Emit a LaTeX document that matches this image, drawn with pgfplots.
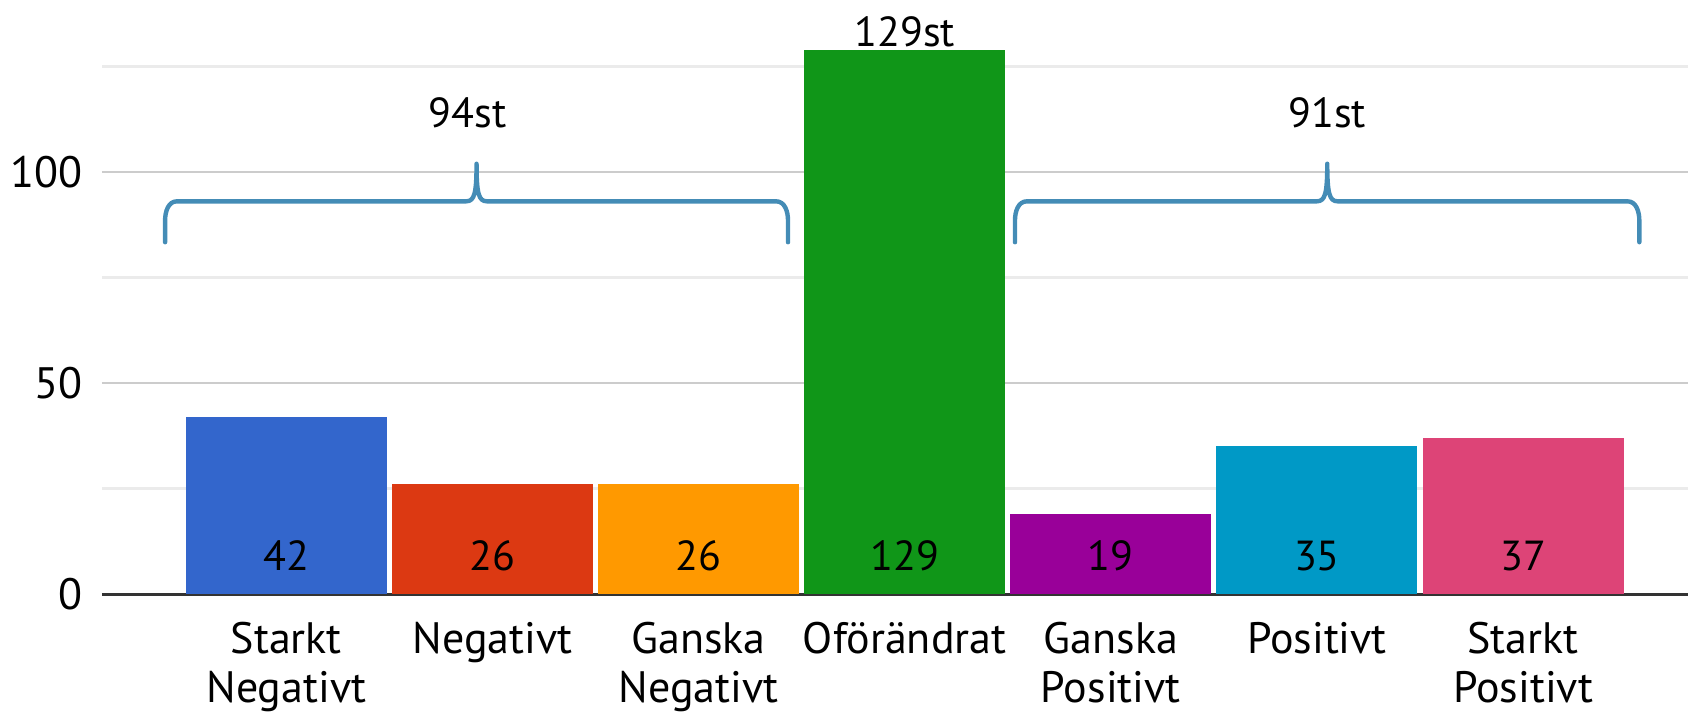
\documentclass[border=0pt]{standalone}
\usepackage{pgfplots}
\pgfplotsset{compat=1.18}
\usepackage{fontspec}
\setmainfont{PT Sans}
\definecolor{c1}{HTML}{3366CC}
\definecolor{c2}{HTML}{DC3912}
\definecolor{c3}{HTML}{FF9900}
\definecolor{c4}{HTML}{109618}
\definecolor{c5}{HTML}{990099}
\definecolor{c6}{HTML}{0099C6}
\definecolor{c7}{HTML}{DD4477}
\definecolor{brace}{HTML}{448CB6}
\definecolor{gmaj}{HTML}{CCCCCC}
\definecolor{gmin}{HTML}{EBEBEB}
\begin{document}
\begin{tikzpicture}
\begin{axis}[name=ax, scale only axis, width=793pt, height=274.3pt,
  xmin=-0.894, xmax=6.80, ymin=0, ymax=130, clip=false,
  ybar, bar width=0.975, bar shift=0pt,
  axis x line*=bottom, axis y line*=left,
  x axis line style={draw=black!80, line width=1.5pt},
  y axis line style={draw=none},
  xtick={0,...,6},
  xticklabels={{Starkt\\Negativt},Negativt,{Ganska\\Negativt},Oförändrat,{Ganska\\Positivt},Positivt,{Starkt\\Positivt}},
  xticklabel style={font=\fontsize{22}{24.3}\selectfont, align=center, anchor=north, inner sep=0pt, yshift=-14pt},
  ytick={0,50,100}, yticklabels={0,50,100},
  minor ytick={25,75,125},
  yticklabel style={font=\fontsize{22}{27}\selectfont, anchor=east, inner sep=0pt, xshift=-9.5pt},
  ymajorgrids, yminorgrids,
  major grid style={draw=gmaj, line width=1.3pt},
  minor grid style={draw=gmin, line width=1.3pt},
  major tick length=0pt, minor tick length=0pt,
  tick style={draw=none},
  every node near coord/.append style={font=\fontsize{21}{25}\selectfont, text=black},
]
\addplot[fill=c1, draw=none] coordinates {(0,42)};
\addplot[fill=c2, draw=none] coordinates {(1,26)};
\addplot[fill=c3, draw=none] coordinates {(2,26)};
\addplot[fill=c4, draw=none, nodes near coords, point meta=explicit symbolic,
  nodes near coords style={anchor=center, yshift=9pt}] coordinates {(3,129) [129st]};
\addplot[fill=c5, draw=none] coordinates {(4,19)};
\addplot[fill=c6, draw=none] coordinates {(5,35)};
\addplot[fill=c7, draw=none] coordinates {(6,37)};
% value labels at the bottom of each bar
\addplot[draw=none, fill=none, nodes near coords, point meta=explicit symbolic,
  nodes near coords style={anchor=center, yshift=19.3pt}]
  coordinates {(0,0) [42] (1,0) [26] (2,0) [26] (3,0) [129] (4,0) [19] (5,0) [35] (6,0) [37]};
% braces
\draw[brace, line width=2.2pt, line cap=round, line join=round]
  (axis cs:-0.588,83.4) -- (axis cs:-0.588,88.5) to[out=90,in=180] (axis cs:-0.53,93.1)
  -- (axis cs:0.873,93.1) .. controls (axis cs:0.913,93.1) and (axis cs:0.923,95) .. (axis cs:0.923,102)
  .. controls (axis cs:0.923,95) and (axis cs:0.933,93.1) .. (axis cs:0.973,93.1)
  -- (axis cs:2.376,93.1) to[out=0,in=90] (axis cs:2.434,88.5) -- (axis cs:2.434,83.4);
\draw[brace, line width=2.2pt, line cap=round, line join=round]
  (axis cs:3.535,83.4) -- (axis cs:3.535,88.5) to[out=90,in=180] (axis cs:3.593,93.1)
  -- (axis cs:5.0,93.1) .. controls (axis cs:5.04,93.1) and (axis cs:5.05,95) .. (axis cs:5.05,102)
  .. controls (axis cs:5.05,95) and (axis cs:5.06,93.1) .. (axis cs:5.1,93.1)
  -- (axis cs:6.506,93.1) to[out=0,in=90] (axis cs:6.564,88.5) -- (axis cs:6.564,83.4);
\node[font=\fontsize{21}{25}\selectfont] at (axis cs:0.88,114) {94st};
\node[font=\fontsize{21}{25}\selectfont] at (axis cs:5.05,114) {91st};
\end{axis}
\pgfresetboundingbox
\path[use as bounding box] ([shift={(-51pt,-60.4pt)}]ax.south west) rectangle ([shift={(793pt,297.1pt)}]ax.south west);
\end{tikzpicture}
\end{document}
